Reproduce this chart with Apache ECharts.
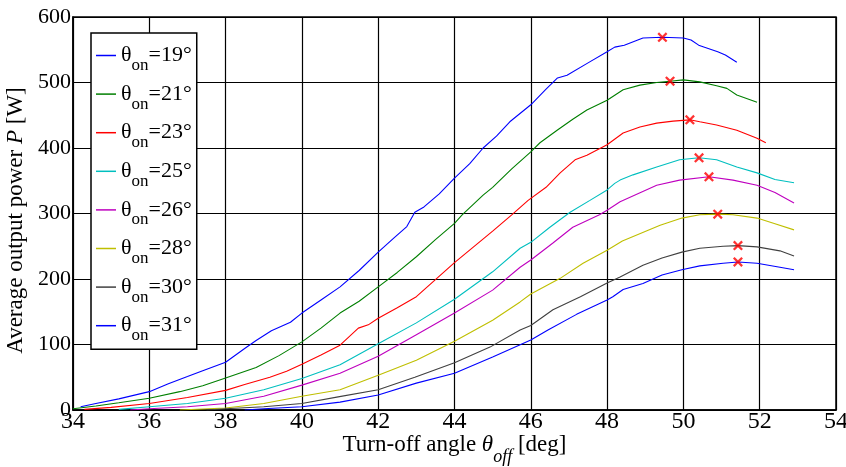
<!DOCTYPE html>
<html>
<head>
<meta charset="utf-8">
<script src="https://cdn.jsdelivr.net/npm/echarts@6/dist/echarts.min.js"></script>
<style>
html,body{margin:0;padding:0;background:#fff;}
#chart{width:846px;height:467px;}
</style>
</head>
<body>
<div id="chart"></div>
<script>
// ---- data ----
var xTicks = [34, 36, 38, 40, 42, 44, 46, 48, 50, 52, 54];
var yTicks = [0, 100, 200, 300, 400, 500, 600];
var thetaOn = ['19', '21', '23', '25', '26', '28', '30', '31'];
var colors = ['#0000ff', '#007f00', '#ff0000', '#00bfbf', '#bf00bf', '#bfbf00', '#404040', '#0000ff'];

var x19 = [34.2, 34.6, 35.2, 36, 36.5, 37, 37.4, 38, 38.5, 38.8, 39.2, 39.7, 40, 40.5, 41, 41.5, 42, 42.4, 42.75, 42.96, 43.2, 43.6, 44, 44.4, 44.75, 45.1, 45.45, 46, 46.4, 46.7, 46.95, 47.5, 48, 48.2, 48.45, 48.94, 49.45, 50, 50.2, 50.4, 50.9, 51.1, 51.4];
var y19 = [5, 10, 17, 28, 40, 51, 60, 73, 94, 106, 121, 134, 148, 168, 188, 213, 241, 262, 280, 302, 310, 330, 354, 376, 400, 418, 440, 466, 490, 507, 511, 530, 547, 554, 557, 568, 569, 568, 565, 557, 547, 542, 531];

var x21 = [34, 34.6, 35.2, 36, 36.8, 37.4, 38, 38.8, 39.4, 40, 40.5, 41, 41.5, 42, 42.5, 43, 43.5, 44, 44.2, 44.75, 45, 45.5, 46, 46.24, 46.69, 47.1, 47.47, 48, 48.42, 48.86, 49.3, 49.65, 50, 50.43, 50.87, 51.14, 51.4, 51.93];
var y21 = [2, 6, 11, 18, 28, 37, 49, 65, 83, 104, 125, 148, 166, 188, 210, 234, 260, 285, 298, 328, 340, 368, 394, 408, 427, 444, 458, 473, 489, 496, 500, 502, 504, 501, 495, 491, 481, 470];

var x23 = [34.3, 35, 36, 37, 38, 38.5, 39.16, 39.6, 40, 40.5, 41, 41.48, 41.74, 42, 42.5, 43, 43.5, 44, 44.5, 45, 45.5, 45.93, 46.4, 46.77, 47.16, 47.47, 48, 48.42, 48.86, 49.3, 49.73, 50.17, 50.43, 50.87, 51.4, 51.93, 52.16];
var y23 = [1, 4, 10, 19, 30, 39, 50, 59, 70, 84, 99, 125, 130, 140, 156, 173, 199, 225, 249, 273, 298, 320, 340, 362, 382, 389, 405, 423, 432, 438, 441, 443, 440, 435, 427, 415, 408];

var x25 = [35.2, 36, 37, 38, 39, 40, 41, 42, 43, 44, 45, 45.72, 46, 46.5, 47.03, 47.55, 48, 48.2, 48.34, 48.68, 49.3, 49.9, 50.41, 50.87, 51.4, 51.93, 52.4, 52.9];
var y25 = [1, 5, 10, 18, 31, 48, 69, 101, 133, 169, 211, 247, 256, 279, 302, 320, 336, 346, 351, 359, 371, 382, 385, 382, 371, 362, 352, 347];

var x26 = [35.5, 36, 37, 38, 39, 40, 41, 42, 43, 44, 45, 45.72, 46, 46.58, 47.1, 47.8, 48, 48.34, 49.3, 49.9, 50.67, 51.3, 51.93, 52.4, 52.9];
var y26 = [0, 2, 5, 10, 21, 38, 56, 82, 115, 148, 183, 218, 229, 255, 279, 298, 305, 318, 343, 351, 356, 351, 343, 332, 316];

var x28 = [36.8, 38, 39, 40, 41, 42, 43, 44, 45, 45.72, 46, 46.77, 47.37, 48, 48.4, 49.39, 49.96, 50.43, 50.9, 51.3, 51.93, 52.36, 52.9];
var y28 = [0, 3, 10, 21, 31, 53, 76, 105, 137, 165, 177, 201, 224, 244, 258, 282, 293, 298, 299, 298, 293, 285, 275];

var x30 = [37.5, 38, 39, 40, 40.95, 42, 42.96, 44, 44.93, 45.72, 46, 46.58, 47.3, 48, 48.34, 48.94, 49.44, 49.96, 50.43, 51.04, 51.43, 51.93, 52.53, 52.9];
var y30 = [0, 2, 5, 10, 20, 31, 50, 72, 96, 122, 129, 153, 173, 194, 203, 221, 232, 241, 247, 250, 251, 249, 243, 235];

var x31 = [38.5, 39, 40, 41, 42, 43, 44, 45, 46, 46.45, 47.2, 48, 48.15, 48.42, 48.94, 49.44, 49.96, 50.43, 51.04, 51.43, 51.93, 52.53, 52.9];
var y31 = [0, 2, 5, 12, 23, 41, 56, 81, 107, 122, 146, 168, 173, 184, 193, 206, 214, 220, 224, 226, 224, 218, 214];

var peakX = [49.45, 49.65, 50.17, 50.41, 50.67, 50.9, 51.43, 51.43];
var peakY = [569, 502, 443, 385, 356, 299, 251, 226];

// ---- build ----
var xsAll = [x19, x21, x23, x25, x26, x28, x30, x31];
var ysAll = [y19, y21, y23, y25, y26, y28, y30, y31];
function pairs(xs, ys) { return xs.map(function (v, i) { return [v, ys[i]]; }); }

var FONT = '"Liberation Serif", "Times New Roman", serif';
var series = thetaOn.map(function (name, k) {
  return {
    name: name,
    type: 'line',
    data: pairs(xsAll[k], ysAll[k]),
    symbol: 'none',
    color: colors[k],
    lineStyle: { width: 1.1, color: colors[k] },
    z: 3
  };
});
series.push({
  name: 'peak',
  type: 'scatter',
  data: pairs(peakX, peakY),
  symbol: 'path://M0,1.6 L1.6,0 L5,3.4 L8.4,0 L10,1.6 L6.6,5 L10,8.4 L8.4,10 L5,6.6 L1.6,10 L0,8.4 L3.4,5 Z',
  symbolSize: 10,
  itemStyle: { color: '#ff0000' },
  z: 5
});

var chart = echarts.init(document.getElementById('chart'), null, { renderer: 'canvas' });
chart.setOption({
  animation: false,
  backgroundColor: '#fff',
  grid: { left: 73, right: 10, top: 17, bottom: 57, containLabel: false, outerBoundsMode: 'none', show: true, borderColor: '#000', borderWidth: 1.5, backgroundColor: 'transparent' },
  legend: {
    data: thetaOn,
    orient: 'vertical',
    left: 91,
    top: 33,
    padding: [4, 5, 5, 5],
    itemGap: 1.6,
    itemWidth: 20,
    itemHeight: 1.5,
    icon: 'rect',
    backgroundColor: '#fff',
    borderColor: '#000',
    borderWidth: 1.5,
    borderRadius: 0,
    formatter: function (n) { return '{t|θ}{s|on}{t|=' + n + '°}'; },
    textStyle: {
      color: '#000',
      rich: {
        t: { fontFamily: FONT, fontSize: 22, lineHeight: 24, color: '#000' },
        s: { fontFamily: FONT, fontSize: 17, lineHeight: 18, padding: [20, 0, 0, 0], color: '#000' }
      }
    }
  },
  xAxis: {
    type: 'value',
    min: xTicks[0],
    max: xTicks[xTicks.length - 1],
    interval: xTicks[1] - xTicks[0],
    axisLine: { show: true, onZero: false, lineStyle: { color: '#000', width: 1.5 } },
    axisTick: { show: false },
    splitLine: { show: true, lineStyle: { color: '#000', width: 1.2 } },
    axisLabel: { color: '#000', fontFamily: FONT, fontSize: 24, margin: 0 },
    name: '{a|Turn-off angle }{i|θ}{s|off}{a| [deg]}',
    nameLocation: 'middle',
    nameGap: 23,
    nameMoveOverlap: false,
    nameTextStyle: {
      rich: {
        a: { fontFamily: FONT, fontSize: 23, lineHeight: 24, color: '#000' },
        i: { fontFamily: FONT, fontSize: 23, lineHeight: 24, fontStyle: 'italic', color: '#000' },
        s: { fontFamily: FONT, fontSize: 18, lineHeight: 18, fontStyle: 'italic', padding: [24, 0, 0, 0], color: '#000' }
      }
    }
  },
  yAxis: {
    type: 'value',
    min: yTicks[0],
    max: yTicks[yTicks.length - 1],
    interval: yTicks[1] - yTicks[0],
    axisLine: { show: true, lineStyle: { color: '#000', width: 1.5 } },
    axisTick: { show: false },
    splitLine: { show: true, lineStyle: { color: '#000', width: 1.2 } },
    axisLabel: { color: '#000', fontFamily: FONT, fontSize: 22, margin: 2 },
    name: '{a|Average output power }{i|P}{a| [W]}',
    nameLocation: 'middle',
    nameGap: 45,
    nameTextStyle: {
      padding: [0, 14, 0, 0],
      rich: {
        a: { fontFamily: FONT, fontSize: 23, color: '#000' },
        i: { fontFamily: FONT, fontSize: 23, fontStyle: 'italic', color: '#000' }
      }
    }
  },
  series: series
});
</script>
</body>
</html>
